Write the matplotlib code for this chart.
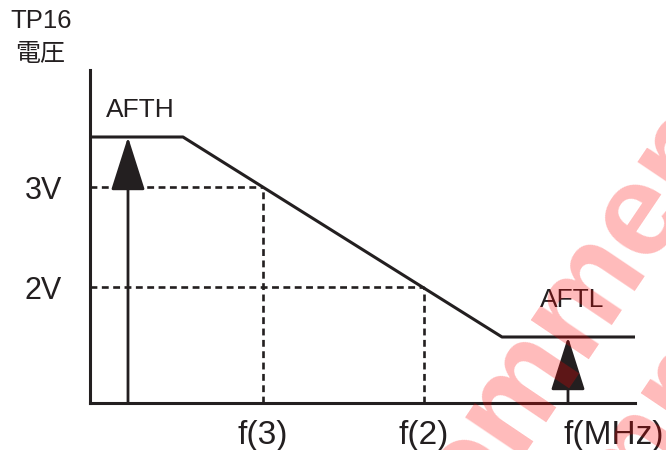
import matplotlib
matplotlib.use("Agg")
import matplotlib.pyplot as plt

# voltage characteristic (x in arbitrary frequency units, y in volts)
curve_f = [0.0, 9.3, 41.2, 54.5]
curve_v = [3.5, 3.5, 1.5, 1.5]
ref_v = [3.0, 2.0]
ref_f = [17.3, 33.4]
ref_vlabels = ["3V", "2V"]
ref_flabels = ["f(3)", "f(2)"]
afth_f, aftl_f = 3.8, 47.8
v_min, v_max = 0.84, 4.17
f_max = 54.5

ink = "#231f20"
fam = ["Liberation Sans", "Noto Sans CJK JP", "DejaVu Sans"]

fig = plt.figure(figsize=(6.66, 4.5), dpi=100)
ax = fig.add_axes([90 / 666, 47 / 450, 545 / 666, 333 / 450])
ax.set_xlim(0, f_max)
ax.set_ylim(v_min, v_max)
for s in ["top", "right"]:
    ax.spines[s].set_visible(False)
for s in ["left", "bottom"]:
    ax.spines[s].set_linewidth(2.2)
    ax.spines[s].set_color(ink)
ax.set_xticks([])
ax.set_yticks([])

ax.plot(curve_f, curve_v, color=ink, lw=2.2, solid_capstyle="butt", clip_on=False)

# dashed guides
for v, f, vl, fl in zip(ref_v, ref_f, ref_vlabels, ref_flabels):
    ax.plot([0, f], [v, v], color=ink, lw=1.9, ls=(0, (2.6, 1.7)), clip_on=False)
    ax.plot([f, f], [v_min, v], color=ink, lw=1.9, ls=(0, (2.6, 1.7)), clip_on=False)
    ax.text(-2.8, v - 0.04, vl, ha="right", va="center", fontsize=22, color=ink, family=fam)
    ax.text(f, v_min - 0.17, fl, ha="center", va="top", fontsize=24, color=ink, family=fam)

ax.text(f_max - 2.1, v_min - 0.17, "f(MHz)", ha="center", va="top", fontsize=24,
        color=ink, family=fam, clip_on=False)

# AFTH / AFTL arrows
for f, v in [(afth_f, curve_v[0]), (aftl_f, curve_v[-1])]:
    ax.annotate("", xy=(f, v), xytext=(f, v_min),
                arrowprops=dict(arrowstyle="-|>,head_length=1.7,head_width=0.54",
                                mutation_scale=20, lw=2.0, color=ink,
                                shrinkA=0, shrinkB=0))

ax.text(1.6, 3.77, "AFTH", ha="left", va="center", fontsize=19, color=ink, family=fam)
ax.text(48.2, 1.87, "AFTL", ha="center", va="center", fontsize=19, color=ink, family=fam)

fig.text(41 / 666, 1 - 21 / 450, "TP16", ha="center", va="center", fontsize=18.5,
         color=ink, family=fam)
fig.text(40 / 666, 1 - 54 / 450, "電圧", ha="center", va="center", fontsize=18,
         color=ink, family=fam)

# watermark
for cx, cy in [(575, 312), (685, 385)]:
    fig.text(cx / 666, 1 - cy / 450, "ommen", ha="center", va="center", rotation=56,
             fontsize=95, fontweight="bold", color="red", alpha=0.27, family=fam)

fig.savefig("out.png", dpi=100)
